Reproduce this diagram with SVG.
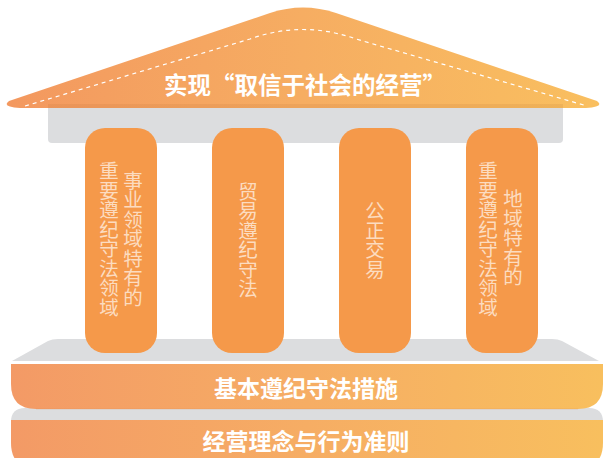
<svg xmlns="http://www.w3.org/2000/svg" width="603" height="458" viewBox="0 0 603 458">
  <defs>
    <linearGradient id="warm" x1="0" y1="0" x2="1" y2="0">
      <stop offset="0" stop-color="#f3985f"/>
      <stop offset="0.5" stop-color="#f6ad62"/>
      <stop offset="1" stop-color="#f9bf5f"/>
    </linearGradient>
    <linearGradient id="warmBand" gradientUnits="userSpaceOnUse" x1="11" y1="0" x2="603" y2="0">
      <stop offset="0" stop-color="#f39a66"/>
      <stop offset="0.5" stop-color="#f6ad64"/>
      <stop offset="1" stop-color="#f8bf5e"/>
    </linearGradient>
    <style>
      .gray { fill: #dcdddf; }
      .col { fill: #f5994a; }
      .coltxt { font-family: "Noto Sans CJK SC", "Noto Sans", sans-serif; font-size: 19.5px; fill: #fcdcc0; writing-mode: vertical-rl; text-anchor: middle; }
      .big { font-family: "Noto Sans CJK SC", "Noto Sans", sans-serif; font-weight: 700; fill: #ffffff; text-anchor: middle; dominant-baseline: central; }
    </style>
  </defs>

  <!-- beam under roof -->
  <g id="beam">
    <path class="gray" d="M48,100 H563 V139 Q563,143 559,143 H52 Q48,143 48,139 Z"/>
  </g>

  <!-- roof -->
  <g id="roof">
    <path fill="url(#warm)" d="M20,108 Q1,107 9,101 L270,13 Q303,2 336,13 L597,101 Q605,107 586,108 Z"/>
    <rect x="48" y="104" width="515" height="4" fill="#b0602a" opacity="0.12"/>
    <path d="M25,106 L250,39 Q303,20 356,39 L587,106" fill="none" stroke="#ffffff" stroke-width="1.2" stroke-dasharray="4 4"/>
    <text class="big" x="305" y="84" font-size="23.5">实现“取信于社会的经营”</text>
  </g>

  <!-- plinth -->
  <g id="plinth">
    <path class="gray" d="M12,361 L48,341 Q52,339 58,339 H552 Q558,339 562,341 L599,361 Z"/>
  </g>

  <!-- columns -->
  <g id="col1">
    <rect class="col" x="85" y="128" width="72" height="225" rx="20"/>
    <text class="coltxt" x="133" y="239">事业领域特有的</text>
    <text class="coltxt" x="109" y="239">重要遵纪守法领域</text>
  </g>
  <g id="col2">
    <rect class="col" x="212" y="128" width="72" height="225" rx="20"/>
    <text class="coltxt" x="248" y="240">贸易遵纪守法</text>
  </g>
  <g id="col3">
    <rect class="col" x="339" y="128" width="72" height="225" rx="20"/>
    <text class="coltxt" x="375" y="240">公正交易</text>
  </g>
  <g id="col4">
    <rect class="col" x="466" y="128" width="72" height="225" rx="20"/>
    <text class="coltxt" x="513" y="238">地域特有的</text>
    <text class="coltxt" x="488" y="239">重要遵纪守法领域</text>
  </g>

  <!-- base 2 (lower) -->
  <g id="base2">
    <path class="gray" d="M11,422 Q11,408 25,408 H589 Q603,408 603,422 V440 H11 Z"/>
    <path fill="url(#warmBand)" d="M11,420 H603 V443 Q603,468 578,468 H36 Q11,468 11,443 Z"/>
    <text class="big" x="306" y="440" font-size="23">经营理念与行为准则</text>
  </g>

  <!-- base 1 -->
  <g id="base1">
    <rect x="11" y="361" width="592" height="3" fill="#ffffff"/>
    <path fill="url(#warmBand)" d="M11,364 H603 V384 Q603,409 578,409 H36 Q11,409 11,384 Z"/>
    <path d="M36,409 H578" stroke="#e08a4a" stroke-opacity="0.25" stroke-width="1.2" fill="none"/>
    <text class="big" x="306" y="387" font-size="23">基本遵纪守法措施</text>
  </g>
</svg>
